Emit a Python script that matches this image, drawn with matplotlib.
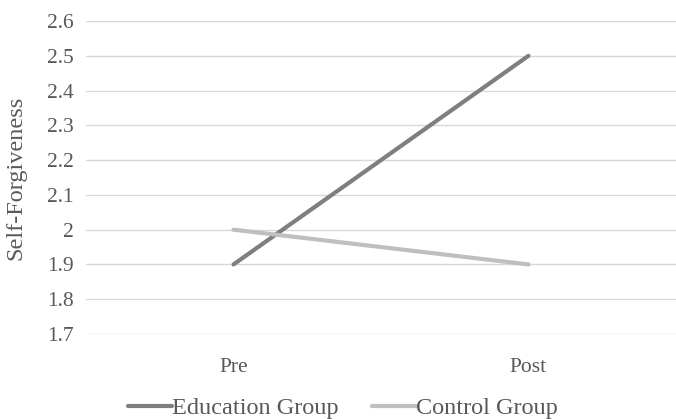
import matplotlib.pyplot as plt
from matplotlib.lines import Line2D

plt.rcParams['font.family'] = ['Liberation Serif', 'DejaVu Serif']

# data
categories = ['Pre', 'Post']
education = [1.9, 2.5]
control = [2.0, 1.9]
yticks = [1.7, 1.8, 1.9, 2.0, 2.1, 2.2, 2.3, 2.4, 2.5, 2.6]
ytick_labels = ['1.7', '1.8', '1.9', '2', '2.1', '2.2', '2.3', '2.4', '2.5', '2.6']

txt = '#595959'

fig = plt.figure(figsize=(6.76, 4.19), dpi=100)
ax = fig.add_axes([86 / 676, 1 - 334 / 419, 590 / 676, 313 / 419])

x = list(range(len(categories)))
ax.plot(x, education, color='#7f7f7f', lw=3, solid_capstyle='round', zorder=3)
ax.plot(x, control, color='#bfbfbf', lw=3, solid_capstyle='round', zorder=3)

ax.set_xlim(-0.5, 1.5)
ax.set_ylim(1.7, 2.6)
ax.set_yticks(yticks)
ax.set_yticklabels(ytick_labels)
ax.set_xticks(x)
ax.set_xticklabels(categories)
ax.grid(axis='y', color='#d9d9d9', lw=1)
ax.set_axisbelow(True)
for s in ax.spines.values():
    s.set_visible(False)
ax.tick_params(axis='y', length=0, pad=9, labelsize=15.5, labelcolor=txt)
ax.tick_params(axis='x', length=0, pad=17, labelsize=15.5, labelcolor=txt)
ax.set_ylabel('Self-Forgiveness', fontsize=17.5, color=txt)
ax.yaxis.set_label_coords(-60 / 590, 0.5)

handles = [Line2D([], [], color='#7f7f7f', lw=3, solid_capstyle='round'),
           Line2D([], [], color='#bfbfbf', lw=3, solid_capstyle='round')]
leg = fig.legend(handles, ['Education Group', 'Control Group'], loc='center',
                 bbox_to_anchor=(0.5 + 5 / 676, 1 - 408 / 419), ncol=2, frameon=False,
                 fontsize=17.5, handlelength=1.8, handletextpad=0.0,
                 columnspacing=1.4, labelcolor=txt)

fig.savefig('out.png', dpi=100)
